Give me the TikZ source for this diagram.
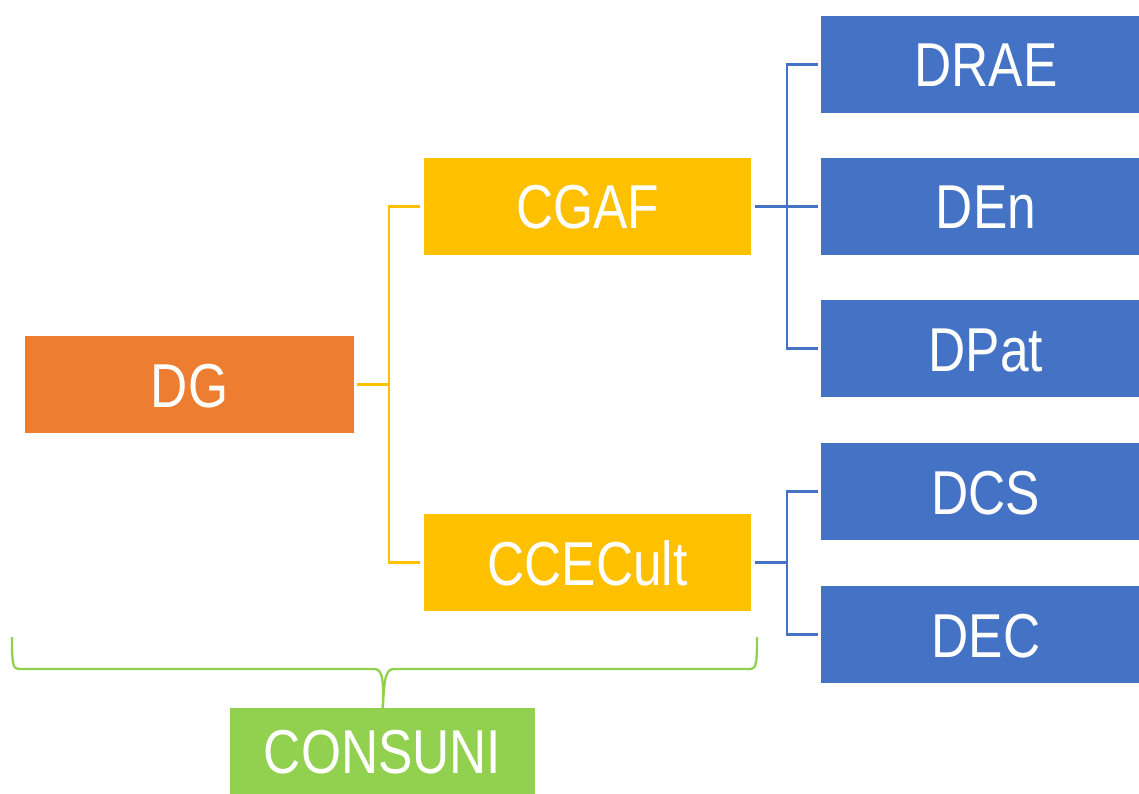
\documentclass[tikz,border=0pt]{standalone}
\usepackage{fontspec}
\setmainfont[FakeStretch=0.83]{Liberation Sans}
\definecolor{orng}{HTML}{ED7D31}
\definecolor{gold}{HTML}{FFC000}
\definecolor{blu}{HTML}{4472C4}
\definecolor{grn}{HTML}{92D050}
\begin{document}
\begin{tikzpicture}[x=1pt,y=-1pt,
  box/.style={draw=none,inner sep=0pt,text=white,font=\fontsize{62}{62}\selectfont,
    text height=45pt,text depth=0pt,anchor=center},
  bigbox/.style={box,minimum width=329pt,minimum height=97pt},
  midbox/.style={box,fill=gold,minimum width=327pt,minimum height=97pt},
  bluebox/.style={box,fill=blu,minimum width=318pt,minimum height=97pt,
    execute at begin node={\hspace*{12pt}}},
  yl/.style={draw=gold,line width=2.3pt},
  bl/.style={draw=blu,line width=2.3pt},
  gl/.style={draw=grn,line width=2.3pt}]
\useasboundingbox (0,0) rectangle (1139,794);
\node[bigbox,fill=orng] (dg) at (189.5,384.5) {DG};
\node[midbox] (cgaf) at (587.5,206.5) {CGAF};
\node[midbox] (ccecult) at (587.5,562.5) {CCECult};
\node[bluebox] (drae) at (980,64.5) {DRAE};
\node[bluebox] (den) at (980,206.5) {DEn};
\node[bluebox] (dpat) at (980,348.5) {DPat};
\node[bluebox] (dcs) at (980,491.5) {DCS};
\node[bluebox] (dec) at (980,634.5) {DEC};
\node[box,fill=grn,minimum width=305pt,minimum height=86pt] (consuni) at (382.5,751) {CONSUNI};
% orange-level connectors
\draw[yl] ([xshift=3pt]dg.east) -- ++(32,0) coordinate (jy);
\draw[yl] ([xshift=-4pt]cgaf.west) -| (jy) |- ([xshift=-4pt]ccecult.west);
% blue connectors
\draw[bl] ([xshift=4pt]cgaf.east) -- ([xshift=-3pt]den.west);
\draw[bl] ([xshift=-3pt]drae.west) -| ([xshift=-34pt]dpat.west) -- ([xshift=-3pt]dpat.west);
\draw[bl] ([xshift=4pt]ccecult.east) -- ++(32,0);
\draw[bl] ([xshift=-3pt]dcs.west) -| ([xshift=-34pt]dec.west) -- ([xshift=-3pt]dec.west);
% brace
\coordinate (tip) at ([yshift=-7pt]consuni.north);
\draw[gl] (12,637) .. controls (12,669) and (13,669) .. (22,669) -- (374,669)
  .. controls (383,669) and (384,680) .. (tip);
\draw[gl] (757,637) .. controls (757,669) and (756,669) .. (747,669) -- (394,669)
  .. controls (385,669) and (384,680) .. (tip);
\end{tikzpicture}
\end{document}
